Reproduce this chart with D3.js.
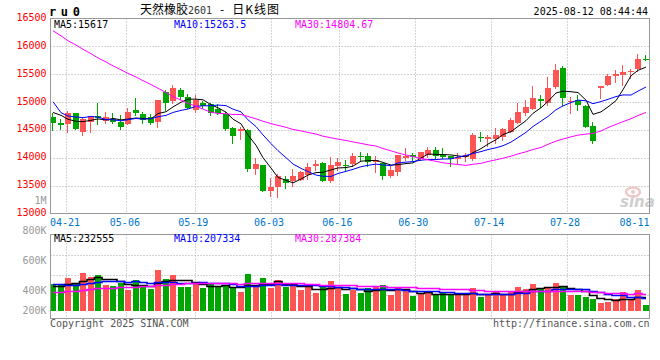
<!DOCTYPE html>
<html><head><meta charset="utf-8">
<script src="https://cdn.jsdelivr.net/npm/d3@7"></script>
<style>body{margin:0;background:#fff;}svg{display:block;}</style>
</head><body>
<svg id="c" width="660" height="360"></svg>
<script>
// ---------- DATA ----------
const dates = ["04-17","04-18","04-21","04-22","04-23","04-24","04-25","04-28","04-29","04-30",
"05-06","05-07","05-08","05-09","05-12","05-13","05-14","05-15","05-16","05-19",
"05-20","05-21","05-22","05-23","05-26","05-27","05-28","05-29","05-30","06-03",
"06-04","06-05","06-06","06-09","06-10","06-11","06-12","06-13","06-16","06-17",
"06-18","06-19","06-20","06-23","06-24","06-25","06-26","06-27","06-30","07-01",
"07-02","07-03","07-04","07-07","07-08","07-09","07-10","07-11","07-14","07-15",
"07-16","07-17","07-18","07-21","07-22","07-23","07-24","07-25","07-28","07-29",
"07-30","07-31","08-01","08-04","08-05","08-06","08-07","08-08","08-11","08-12"];
const open = [14726,14619,14601,14809,14470,14649,14750,14661,14696,14637,
14601,14857,14786,14726,14649,15173,15018,15214,15083,14857,
14988,14958,14869,14786,14530,14482,14500,13804,13875,13399,
13470,13619,13577,13607,13696,13845,13905,13577,13857,13875,
13887,14036,14024,13917,13905,13679,13738,13994,14054,13976,
14054,14143,14042,14036,13982,14012,13982,14381,14339,14339,
14369,14470,14631,14809,14875,15048,14976,15274,15613,14994,
15036,14929,14571,15244,15315,15464,15494,15536,15589,15780];
const high = [14798,14696,14845,14809,14738,14750,14988,14827,14809,14768,
14887,15065,14827,14786,15036,15214,15315,15244,15143,15125,
15024,14976,14958,14827,14548,14548,14512,13994,13875,13637,
13708,13667,13804,13768,13905,13964,13917,14006,13994,13952,
14083,14107,14083,14036,13905,13845,14054,14173,14083,14101,
14190,14202,14173,14036,14083,14083,14440,14458,14411,14530,
14530,14708,14988,15036,15286,15125,15452,15678,15643,15095,
15125,14946,14649,15286,15512,15571,15661,15601,15857,15839];
const low = [14500,14512,14470,14512,14411,14470,14607,14619,14619,14512,
14601,14768,14619,14607,14560,14857,14976,15048,14887,14827,
14887,14768,14786,14500,14274,14339,13756,13714,13399,13310,
13292,13458,13488,13607,13619,13786,13577,13565,13786,13774,
13857,13934,13845,13744,13625,13655,13696,13964,13964,13952,
14012,13976,13994,13857,13905,13934,13964,14304,14214,14262,
14321,14470,14619,14768,14875,14917,14946,15256,14946,14809,
14857,14548,14274,15077,15303,15363,15315,15440,15559,15750];
const close = [14631,14589,14809,14518,14696,14750,14714,14726,14649,14560,
14827,14809,14679,14619,15036,14988,15244,15095,14899,15036,
14929,14809,14809,14518,14399,14512,13804,13893,13399,13470,
13667,13548,13667,13738,13827,13893,13577,13875,13917,13857,
14024,14024,13917,13952,13667,13786,14054,14024,14012,14101,
14143,14024,14012,13976,14012,14054,14411,14369,14381,14411,
14512,14679,14827,14905,15065,15018,15244,15583,15065,15018,
14946,14560,14309,15286,15464,15512,15542,15559,15768,15762];
// volume in thousands of lots
const volume = [466,437,568,466,641,573,607,437,420,476,
352,522,437,369,692,539,607,403,403,488,
386,466,420,420,386,318,624,420,556,386,
522,403,437,352,403,301,403,505,398,284,
352,301,386,420,437,267,386,352,250,284,
301,284,301,284,267,284,386,233,267,318,
267,335,403,369,454,369,403,471,420,267,
267,233,199,131,148,199,318,199,352,97];
// sessions before the first visible day (used only for moving averages)
const priorClose = [17350,17400,16900,16950,17100,17050,16850,16750,16700,16750,
16750,16650,16700,17000,17350,17450,16950,16700,16550,16450,
16549,15409,14698,14816,14518,14849,15164,14698,14726];
const priorVolume = [240,260,250,270,245,255,265,250,240,260,
255,270,250,245,260,255,250,265,250,220,
560,620,480,450,425,430,400,420,409];
const priceTicks = [16500,16000,15500,15000,14500,14000,13500,13000];
const volTicks = [800,600,400,200];
const volTickLabels = ["800K","600K","400K","200K"];
const dateTicks = ["04-21","05-06","05-19","06-03","06-16","06-30","07-14","07-28","08-11"];
const maLabels = ["MA5:15617","MA10:15263.5","MA30:14804.67"];
const volMaLabels = ["MA5:232555","MA10:207334","MA30:287384"];
const maPeriods = [5,10,30];
const maColors = ["#000000","#0000ff","#ff00ff"];

// ---------- LAYOUT ----------
const svg = d3.select("#c");
const L = 50.5, R = 649.5, mTop = 18.5, mBot = 213.5;
const vTop = 234.5, vBot = 318.5, vBase = 311;
const mono = "'DejaVu Sans Mono', 'Liberation Mono', monospace";
const UP = "#ff5454", DOWN = "#00a600", GRID = "#aaaaaa", FRAME = "#999999";

const xb = d3.scaleBand().domain(dates).range([49.25, 649.25]).paddingInner(0.2).paddingOuter(0.1);
const xGrid = d3.scaleLinear().domain([0, dates.length - 1]).range([50.5, 650]);
const y = d3.scaleLinear().domain([13000, 16500]).range([mBot, mTop]);
const yv = d3.scaleLinear().domain([0, 800]).range([vBase, vBase - 800 / 17]);
const yvGrid = d3.scaleLinear().domain([0, 4]).range([315.5, 235.5]);
const yvLabel = d3.scaleLinear().domain([800, 200]).range([234.3, 324.3]);
const bw = Math.round(xb.bandwidth());
const xp = d => Math.round(xb(d));

function movingAvg(prior, vals, n) {
  const all = prior.concat(vals), off = prior.length;
  return vals.map((_, i) => d3.mean(all.slice(off + i - n + 1, off + i + 1)));
}

// ---------- GRID ----------
const g = svg.append("g");
priceTicks.filter(v => v !== 16500 && v !== 13000).forEach(v => {
  g.append("line").attr("x1", L).attr("x2", R).attr("y1", Math.round(y(v)) + 0.5).attr("y2", Math.round(y(v)) + 0.5)
    .attr("stroke", GRID).attr("stroke-dasharray", "1,2");
});
[1,2,3].forEach(k => {
  g.append("line").attr("x1", L).attr("x2", R).attr("y1", yvGrid(k)).attr("y2", yvGrid(k))
    .attr("stroke", GRID).attr("stroke-dasharray", "1,2");
});
dateTicks.slice(0, -1).forEach(d => {
  const gx = Math.round(xGrid(dates.indexOf(d))) + 0.5;
  g.append("line").attr("x1", gx).attr("x2", gx).attr("y1", mTop).attr("y2", mBot)
    .attr("stroke", GRID).attr("stroke-dasharray", "1,2");
  g.append("line").attr("x1", gx).attr("x2", gx).attr("y1", vTop).attr("y2", vBot + 2)
    .attr("stroke", GRID).attr("stroke-dasharray", "1,2");
});

// ---------- WATERMARK ----------
const wm = svg.append("g");
wm.append("ellipse").attr("cx", 633).attr("cy", 192).attr("rx", 7).attr("ry", 4.5)
  .attr("fill", "none").attr("stroke", "#f0c8c8").attr("stroke-width", 2.5);
wm.append("circle").attr("cx", 633).attr("cy", 192).attr("r", 2).attr("fill", "#f0c8c8");
wm.append("text").attr("x", 620).attr("y", 207).text("sina")
  .attr("font-family", "'DejaVu Sans', sans-serif").attr("font-size", 15).attr("font-weight", "bold")
  .attr("font-style", "italic").attr("fill", "#cfcfcf");

// ---------- CANDLES ----------
const cg = svg.append("g");
dates.forEach((d, i) => {
  const up = close[i] >= open[i];
  const col = up ? UP : DOWN;
  const x0 = xp(d);
  cg.append("line").attr("x1", x0 + 2.5).attr("x2", x0 + 2.5)
    .attr("y1", Math.round(y(high[i]))).attr("y2", Math.round(y(low[i])) + 1)
    .attr("stroke", col).attr("stroke-width", 1);
  const yt = Math.round(y(Math.max(open[i], close[i])));
  const yb = Math.round(y(Math.min(open[i], close[i])));
  cg.append("rect").attr("x", x0).attr("y", yt).attr("width", bw).attr("height", Math.max(1, yb - yt))
    .attr("fill", col);
  cg.append("rect").attr("x", x0).attr("y", Math.round(yv(volume[i]))).attr("width", bw)
    .attr("height", vBase - Math.round(yv(volume[i]))).attr("fill", col);
});

// ---------- MOVING AVERAGES ----------
svg.append("clipPath").attr("id", "mclip").append("rect").attr("x", L).attr("y", mTop).attr("width", R - L).attr("height", mBot - mTop);
svg.append("clipPath").attr("id", "vclip").append("rect").attr("x", L).attr("y", vTop).attr("width", R - L).attr("height", vBot - vTop);
maPeriods.forEach((n, k) => {
  const m = movingAvg(priorClose, close, n);
  svg.append("path").attr("clip-path", "url(#mclip)")
    .attr("d", d3.line().x((v, i) => xp(dates[i]) + 3).y(v => y(v))(m))
    .attr("fill", "none").attr("stroke", maColors[k]).attr("stroke-width", 1);
  const mv = movingAvg(priorVolume, volume, n);
  svg.append("path").attr("clip-path", "url(#vclip)")
    .attr("d", d3.line().curve(d3.curveStep).x((v, i) => xp(dates[i]) + 3).y(v => Math.round(yv(v)) + 0.5)(mv))
    .attr("fill", "none").attr("stroke", maColors[k]).attr("stroke-width", 1.6);
});

// ---------- FRAMES ----------
const fr = svg.append("g").attr("fill", "none").attr("stroke", FRAME).attr("stroke-width", 1);
fr.append("rect").attr("x", L).attr("y", mTop).attr("width", R - L).attr("height", mBot - mTop);
fr.append("rect").attr("x", L).attr("y", vTop).attr("width", R - L).attr("height", vBot - vTop);

// ---------- TEXT ----------
const T = (x, yy, s, fill, anchor) => svg.append("text").attr("x", x).attr("y", yy).text(s)
  .attr("font-family", mono).attr("font-size", 10).attr("fill", fill).attr("text-anchor", anchor || "start");

priceTicks.forEach(v => T(46.5, y(v) + 2.5, String(v), "#ff0000", "end"));
T(46.5, 204.3, "1M", "#999999", "end");
volTicks.forEach((v, k) => T(46.5, Math.min(314.3, yvLabel(v)), volTickLabels[k], "#999999", "end"));

dateTicks.forEach(d => {
  let cx = xGrid(dates.indexOf(d)) - 1.5;
  cx = Math.max(L + 14.5, Math.min(R - 15, cx));
  T(cx, 225.6, d, "#0077cc", "middle");
});

const legX = [54, 174, 295];
maLabels.forEach((s, k) => T(legX[k], 27.6, s, maColors[k]));
volMaLabels.forEach((s, k) => T(legX[k], 242, s, maColors[k]));

// header
svg.append("text").attr("x", 49).attr("y", 15.7).text("ru0")
  .attr("font-family", mono).attr("font-size", 12).attr("font-weight", "bold")
  .attr("letter-spacing", 4.6).attr("fill", "#000");
const title = svg.append("text").attr("x", 140).attr("y", 13.8)
  .attr("font-family", "'Noto Sans CJK SC', sans-serif").attr("font-size", 12).attr("fill", "#000");
title.append("tspan").text("天然橡胶");
title.append("tspan").attr("font-family", mono).attr("font-size", 10).attr("fill", "#333").text("2601");
title.append("tspan").attr("dx", 8).text("-");
title.append("tspan").attr("dx", 8).attr("letter-spacing", 1).text("日K线图");
T(648, 15, "2025-08-12 08:44:44", "#000", "end");

T(50, 326.6, "Copyright 2025 SINA.COM", "#555555");
T(649.5, 326.6, "http://finance.sina.com.cn", "#555555", "end");
</script>
</body></html>
